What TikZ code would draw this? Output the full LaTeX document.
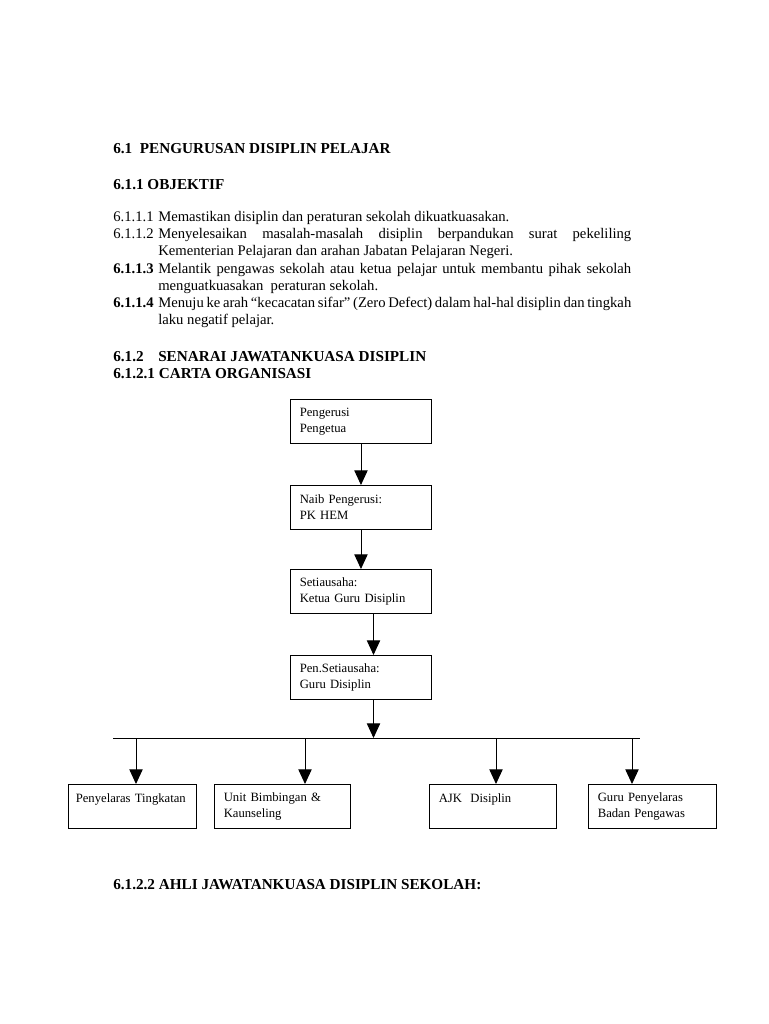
\documentclass[tikz,border=0pt]{standalone}
\usepackage{fontspec}
\setmainfont{Liberation Serif}
\usetikzlibrary{arrows.meta}

\begin{document}
\begin{tikzpicture}[x=0.75pt,y=-0.75pt,>={Triangle[width=10pt,length=11pt]},
  body/.style={anchor=base west,inner sep=0pt,font=\fontsize{11}{13}\selectfont},
  head/.style={body,font=\fontsize{11.4}{13}\selectfont\bfseries},
  item/.style={body,text width=354.75pt,align=justify},
  orgbox/.style={draw,line width=0.7pt,anchor=north west,minimum height=33pt,inner xsep=7pt,align=left,font=\fontsize{9.5}{12}\selectfont},
  link/.style={->,line width=0.7pt}]
  \path[use as bounding box] (0,0) rectangle (768,1024);
  % headings and objectives
  \node[head] (h61) at (113,153) {6.1\ \ PENGURUSAN DISIPLIN PELAJAR};
  \node[head] (h611) at (113,189) {6.1.1 OBJEKTIF};
  \node[body] (n1) at (113,221) {6.1.1.1};
  \node[item] (t1) at (158,221) {Memastikan disiplin dan peraturan sekolah dikuatkuasakan.};
  \node[body] (n2) at (113,238) {6.1.1.2};
  \node[item] (t2) at (158,238) {Menyelesaikan masalah-masalah disiplin berpandukan surat pekeliling\linebreak Kementerian Pelajaran dan arahan Jabatan Pelajaran Negeri.};
  \node[head,font=\fontsize{11}{13}\selectfont\bfseries] (n3) at (113,273) {6.1.1.3};
  \node[item] (t3) at (158,273) {Melantik pengawas sekolah atau ketua pelajar untuk membantu pihak sekolah\linebreak menguatkuasakan\ \ peraturan sekolah.};
  \node[head,font=\fontsize{11}{13}\selectfont\bfseries] (n4) at (113,307) {6.1.1.4};
  \node[item] (t4) at (158,307) {Menuju ke arah ``kecacatan sifar'' (Zero Defect) dalam hal-hal disiplin dan tingkah\linebreak laku negatif pelajar.};
  \node[head] (h612) at (113,361) {\makebox[33.75pt][l]{6.1.2}SENARAI JAWATANKUASA DISIPLIN};
  \node[head] (h6121) at (113,378) {6.1.2.1 CARTA ORGANISASI};
  % org chart
  \node[orgbox,text width=91.75pt] (pengerusi) at (290,399) {Pengerusi\\Pengetua};
  \node[orgbox,text width=91.75pt] (naib) at (290,485) {Naib Pengerusi:\\PK HEM};
  \node[orgbox,text width=91.75pt] (setiausaha) at (290,569) {Setiausaha:\\Ketua Guru Disiplin};
  \node[orgbox,text width=91.75pt] (penset) at (290,655) {Pen.Setiausaha:\\Guru Disiplin};
  \node[orgbox,text width=85pt,inner xsep=5.5pt] (tingkatan) at (68,784) {Penyelaras Tingkatan\\\mbox{}};
  \node[orgbox,text width=88pt] (kaunseling) at (214,784) {Unit Bimbingan \&\\Kaunseling};
  \node[orgbox,text width=81.25pt] (ajk) at (429,784) {AJK\ \ Disiplin\\\mbox{}};
  \node[orgbox,text width=82pt] (pengawas) at (588,784) {Guru Penyelaras\\Badan Pengawas};
  \coordinate (barL) at (113,738);
  \coordinate (barR) at (640,738);
  \coordinate (b1) at (136,738);
  \coordinate (b2) at (305,738);
  \coordinate (b3) at (496,738);
  \coordinate (b4) at (632,738);
  \draw[line width=0.7pt] (barL) -- (barR);
  \draw[link] (pengerusi) -- (naib);
  \draw[link] (naib) -- (setiausaha);
  \draw[link] ([xshift=9.4pt]setiausaha.south) -- ([xshift=9.4pt]penset.north);
  \draw[link] ([xshift=9.4pt]penset.south) -- ([xshift=9.4pt]penset.south |- barL);
  \draw[link] (b1) -- (b1 |- tingkatan.north);
  \draw[link] (b2) -- (b2 |- kaunseling.north);
  \draw[link] (b3) -- (b3 |- ajk.north);
  \draw[link] (b4) -- (b4 |- pengawas.north);
  \node[head] (h6122) at (113,889) {6.1.2.2 AHLI JAWATANKUASA DISIPLIN SEKOLAH:};
\end{tikzpicture}
\end{document}
